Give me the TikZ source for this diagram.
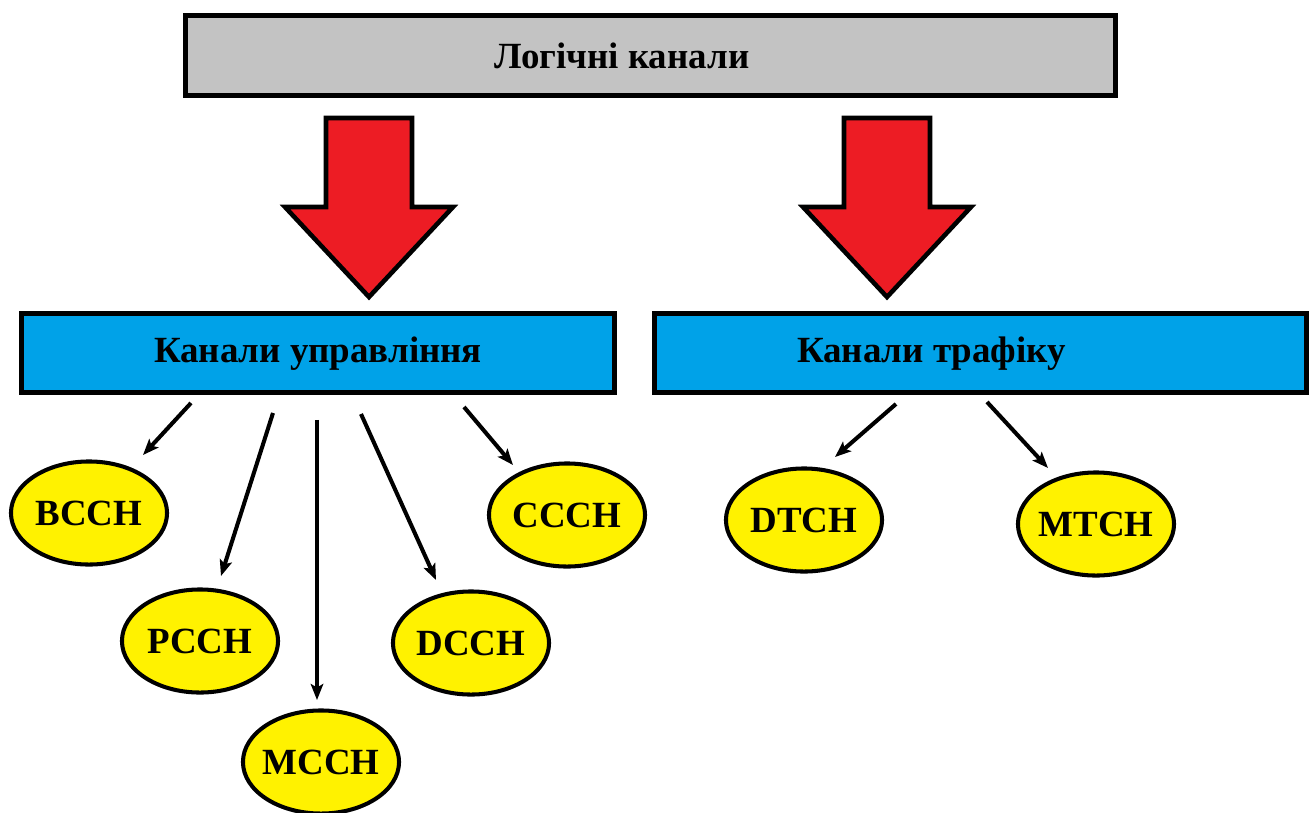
\documentclass[tikz,border=0pt]{standalone}
\usepackage{fontspec}
\setmainfont{Liberation Serif}
\usetikzlibrary{arrows.meta, calc, shapes.geometric}

\definecolor{boxgray}{HTML}{C3C3C3}
\definecolor{boxblue}{HTML}{00A2E8}
\definecolor{arrred}{HTML}{ED1C24}
\definecolor{chyellow}{HTML}{FFF200}

\tikzset{
  bigbox/.style={draw, line width=1.4pt, rectangle, inner sep=0pt},
  chan/.style={draw, line width=1.15pt, ellipse, fill=chyellow,
    minimum width=15.6mm, minimum height=10.3mm, inner ysep=0pt, inner xsep=-1.5mm,
    font=\fontsize{10.5}{12}\selectfont\bfseries},
  title/.style={font=\fontsize{10.5}{12}\selectfont\bfseries},
  link/.style={line width=1.15pt, -{Stealth[length=1.6mm, width=1.25mm, inset=0.35mm]}},
}

\begin{document}
\begin{tikzpicture}[x=0.01cm, y=-0.01cm]
   \useasboundingbox (0,0) rectangle (1309,812);

   % top box
   \node[bigbox, fill=boxgray, minimum width=9.3cm, minimum height=8.0mm] (logic) at (650.5,55.5) {};
   \node[title] (logtxt) at (622,56) {Логічні канали};

   % red block arrows
   \foreach \cx in {369, 887} {
     \draw[line width=1.3pt, fill=arrred, line join=miter]
       (\cx-43,118) -- (\cx+43,118) -- (\cx+43,207) -- (\cx+84,207)
       -- (\cx,297) -- (\cx-84,207) -- (\cx-43,207) -- cycle;
   }

   % second row
   \node[bigbox, fill=boxblue, minimum width=5.92cm, minimum height=7.9mm] (ctrl) at (318,353) {};
   \node[title] (ctrltxt) at (318,354) {Канали управління};
   \node[bigbox, fill=boxblue, minimum width=6.51cm, minimum height=7.9mm] (traf) at (980.5,353) {};
   \node[title] (traftxt) at (931.5,354) {Канали трафіку};

   % logical channels
   \node[chan] (bcch) at (89,513) {BCCH};
   \node[chan] (pcch) at (200,641) {PCCH};
   \node[chan] (mcch) at (321,762) {MCCH};
   \node[chan] (dcch) at (471,643) {DCCH};
   \node[chan] (ccch) at (567,515) {CCCH};
   \node[chan] (dtch) at (804,520) {DTCH};
   \node[chan] (mtch) at (1096,524) {MTCH};

   \draw[link] ($(ctrl.south)+(-127,8)$) -- ($(bcch)+(54,-58)$);
   \draw[link] ($(ctrl.south)+(-45,18)$) -- ($(pcch)+(21,-65)$);
   \draw[link] ($(ctrl.south)+(-1,25)$) -- ($(mcch)+(-4,-62)$);
   \draw[link] ($(ctrl.south)+(43,19)$) -- ($(dcch)+(-35,-63)$);
   \draw[link] ($(ctrl.south)+(146,12)$) -- ($(ccch)+(-54,-50)$);
   \draw[link] ($(traf.south)+(-84.5,9)$) -- ($(dtch)+(31,-63)$);
   \draw[link] ($(traf.south)+(6.5,7)$) -- ($(mtch)+(-48,-56)$);

\end{tikzpicture}
\end{document}
